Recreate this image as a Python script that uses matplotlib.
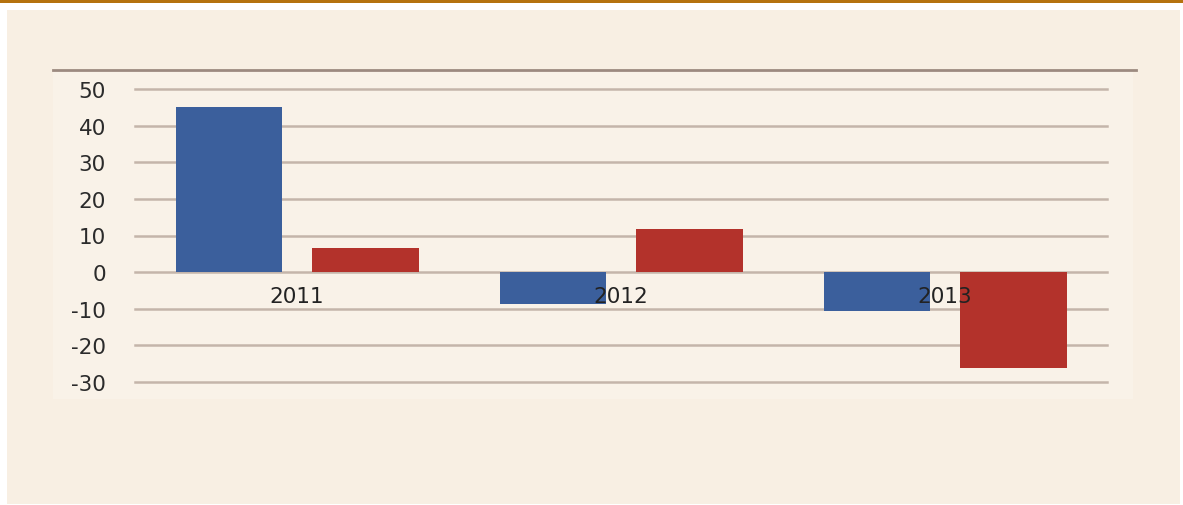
import numpy as np
import matplotlib.pyplot as plt
from matplotlib.patches import Rectangle

# 数据
years = ["2011", "2012", "2013"]
blue_vals = [45.0, -8.6, -10.5]
red_vals = [6.5, 11.7, -26.2]
yticks = [-30, -20, -10, 0, 10, 20, 30, 40, 50]

W, H = 1183, 506
fig = plt.figure(figsize=(W / 100, H / 100), dpi=100)
fig.patch.set_facecolor("white")

# 背景: 顶部橙色条 + 米色底
fig.patches.append(Rectangle((0, 1 - 4 / H), 1, 4 / H, transform=fig.transFigure,
                             facecolor="#b5720f", edgecolor="none", zorder=-3))
fig.patches.append(Rectangle((7 / W, 1 / H), 1173 / W, 494 / H, transform=fig.transFigure,
                             facecolor="#f8efe3", edgecolor="none", zorder=-3))
# 图区浅色底
fig.patches.append(Rectangle((53 / W, (H - 400) / H), 1080 / W, 328 / H, transform=fig.transFigure,
                             facecolor="#f9f2e8", edgecolor="none", zorder=-2))
# 图区上方的棕色横线
fig.lines.append(plt.Line2D([53 / W, 1136 / W], [(H - 71) / H] * 2, transform=fig.transFigure,
                            color="#9c8a80", lw=2.0, zorder=-1))

ax = fig.add_axes([135 / W, (H - 383) / H, 972 / W, 293 / H])
ax.set_facecolor("none")

x = np.arange(len(years))
bw = 0.33
ax.bar(x - 0.21, blue_vals, bw, color="#3b5f9c", zorder=3)
ax.bar(x + 0.21, red_vals, bw, color="#b3322b", zorder=3)

ax.set_xlim(-0.5, 2.5)
ax.set_ylim(-30, 50)
ax.set_yticks(yticks)
ax.set_yticklabels([str(v) for v in yticks])
ax.yaxis.grid(True, color="#c4b5aa", lw=1.8, zorder=1)
for gl in ax.get_ygridlines():
    gl.set_clip_on(False)
ax.set_axisbelow(True)
ax.set_xticks([])
ax.tick_params(axis="y", length=0, pad=21, labelsize=15.5, labelcolor="#2b2b2b")
for s in ax.spines.values():
    s.set_visible(False)

# 年份标签放在零线下方
for i, yr in enumerate(years):
    ax.annotate(yr, xy=(i, 0), xytext=(0, -24), textcoords="offset pixels",
                ha="center", va="center", fontsize=15.5, color="#222222", zorder=5,
                annotation_clip=False)

fig.savefig("out.png", dpi=100, facecolor=fig.get_facecolor())
